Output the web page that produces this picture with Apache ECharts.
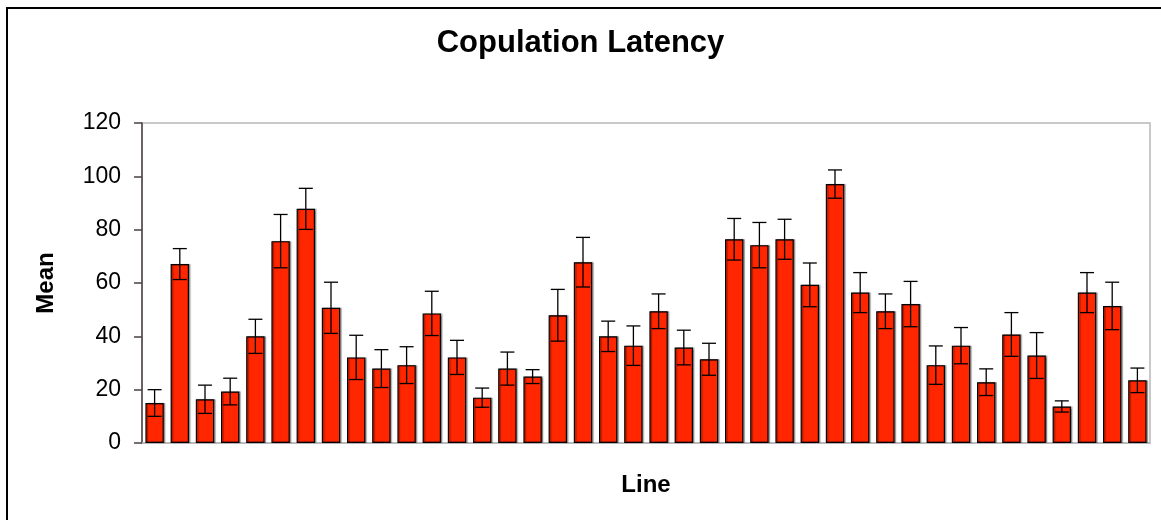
<!DOCTYPE html>
<html>
<head>
<meta charset="utf-8">
<script src="https://cdn.jsdelivr.net/npm/echarts@6/dist/echarts.min.js"></script>
<style>
  html, body { margin: 0; padding: 0; background: #fff; }
  #chart { width: 1161px; height: 520px; }
</style>
</head>
<body>
<div id="chart"></div>
<script>
var lines = [];
for (var n = 1; n <= 40; n++) lines.push(String(n));
var means = [15.0, 67.1, 16.4, 19.3, 40.0, 75.7, 87.8, 50.7, 32.1, 27.9,
             29.2, 48.6, 32.1, 17.0, 27.9, 24.9, 47.9, 67.8, 40.0, 36.5,
             49.4, 35.8, 31.4, 76.4, 74.2, 76.4, 59.3, 97.1, 56.4, 49.4,
             52.1, 29.2, 36.5, 22.8, 40.7, 32.8, 13.7, 56.4, 51.4, 23.5];
var errors = [5.0, 5.8, 5.3, 5.0, 6.4, 10.0, 7.7, 9.6, 8.3, 7.1,
              6.9, 8.3, 6.4, 3.6, 6.2, 2.6, 9.7, 9.3, 5.7, 7.4,
              6.5, 6.5, 6.0, 7.8, 8.5, 7.5, 8.2, 5.3, 7.5, 6.5,
              8.5, 7.2, 6.8, 5.0, 8.2, 8.6, 2.1, 7.5, 8.9, 4.6];
var yTicks = [0, 20, 40, 60, 80, 100, 120];

var errData = means.map(function (m, i) { return [i, m, errors[i]]; });

var chart = echarts.init(document.getElementById('chart'));
chart.setOption({
    animation: false,
    textStyle: { fontFamily: 'Liberation Sans, Arial, sans-serif' },
    title: {
        text: 'Copulation Latency',
        left: 'center',
        top: 23,
        textStyle: { fontSize: 31, fontWeight: 'bold', color: '#000' }
    },
    graphic: [{
        type: 'rect',
        shape: { x: 7, y: 8, width: 1300, height: 700 },
        style: { fill: 'none', stroke: '#000', lineWidth: 2 },
        z: 100
    }],
    grid: {
        left: 142, right: 11, top: 123, bottom: 77,
        show: true, borderColor: '#b8b8b8', borderWidth: 1.5
    },
    xAxis: {
        type: 'category',
        data: lines,
        name: 'Line',
        nameLocation: 'middle',
        nameGap: 30,
        nameTextStyle: { fontSize: 24, fontWeight: 'bold', color: '#000' },
        axisLine: { lineStyle: { color: '#b8b8b8', width: 1.5 } },
        axisTick: { show: false },
        axisLabel: { show: false }
    },
    yAxis: {
        type: 'value',
        min: yTicks[0],
        max: yTicks[yTicks.length - 1],
        interval: 20,
        name: 'Mean',
        nameLocation: 'middle',
        nameGap: 84,
        nameTextStyle: { fontSize: 24, fontWeight: 'bold', color: '#000' },
        axisLine: { show: true, lineStyle: { color: '#4a4040', width: 1.5 } },
        axisTick: { show: true, length: 8, lineStyle: { color: '#4a4040', width: 1.5 } },
        axisLabel: { fontSize: 23, color: '#000', margin: 21 },
        splitLine: { show: false }
    },
    series: [
        {
            name: 'Mean',
            type: 'bar',
            data: means,
            barCategoryGap: '27%',
            itemStyle: {
                color: '#ff2600',
                borderColor: '#000',
                borderWidth: 1.2,
                shadowColor: 'rgba(0,0,0,0.35)',
                shadowOffsetX: 1.5,
                shadowOffsetY: 0,
                shadowBlur: 1
            }
        },
        {
            name: 'SE',
            type: 'custom',
            data: errData,
            encode: { x: 0, y: 1 },
            z: 5,
            renderItem: function (params, api) {
                var i = api.value(0);
                var m = api.value(1);
                var e = api.value(2);
                var hi = api.coord([i, m + e]);
                var lo = api.coord([i, m - e]);
                var half = 7;
                var st = { stroke: '#000', lineWidth: 1.3 };
                return {
                    type: 'group',
                    children: [
                        { type: 'line', shape: { x1: hi[0], y1: hi[1], x2: lo[0], y2: lo[1] }, style: st },
                        { type: 'line', shape: { x1: hi[0] - half, y1: hi[1], x2: hi[0] + half, y2: hi[1] }, style: st },
                        { type: 'line', shape: { x1: lo[0] - half, y1: lo[1], x2: lo[0] + half, y2: lo[1] }, style: st }
                    ]
                };
            }
        }
    ]
});
</script>
</body>
</html>
